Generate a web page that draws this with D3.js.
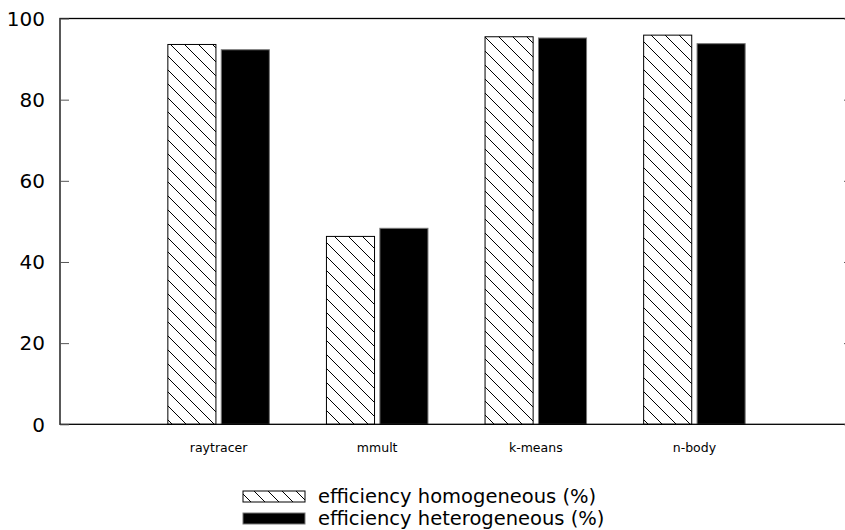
<!DOCTYPE html>
<html>
<head>
<meta charset="utf-8">
<script src="https://cdn.jsdelivr.net/npm/d3@7"></script>
<style>
  body { margin: 0; background: #fff; }
  svg { display: block; font-family: "DejaVu Sans", sans-serif; }
</style>
</head>
<body>
<script>
const width = 845;
const height = 530;
const margin = {top: 18.5, left: 60, bottom: 105.7, right: -8};

const categories = ['raytracer', 'mmult', 'k-means', 'n-body'];
const series = ['efficiency homogeneous (%)', 'efficiency heterogeneous (%)'];
const homogeneous = [93.6, 46.3, 95.5, 95.9];
const heterogeneous = [92.3, 48.3, 95.2, 93.8];
const yTicks = [0, 20, 40, 60, 80, 100];

const values = [homogeneous, heterogeneous];

const svg = d3.select('body').append('svg')
  .attr('width', width)
  .attr('height', height);

// hatch pattern
svg.append('defs').append('pattern')
  .attr('id', 'hatch')
  .attr('patternUnits', 'userSpaceOnUse')
  .attr('width', 14).attr('height', 14)
  .call(p => {
    p.append('rect').attr('width', 14).attr('height', 14).attr('fill', '#fff');
    p.append('path')
      .attr('d', 'M-2,-2L16,16M-2,12L2,16M12,-2L16,2')
      .attr('stroke', '#000').attr('stroke-width', 1);
  });

// x from -1 to 4 in category index units
const x = d3.scaleLinear()
  .domain([-1, categories.length])
  .range([margin.left, width - margin.right]);

const step = x(1) - x(0);
const x1 = d3.scaleBand()
  .domain(series)
  .range([-0.32 * step, 0.32 * step])
  .paddingInner(0.1);

const y = d3.scaleLinear()
  .domain([0, 100])
  .range([height - margin.bottom, margin.top]);

const fills = ['url(#hatch)', '#000'];
const strokes = ['#000', '#777'];

// bars
series.forEach((s, si) => {
  svg.append('g')
    .selectAll('rect').data(values[si]).enter().append('rect')
    .attr('x', (d, i) => x(i) + x1(s))
    .attr('y', d => y(d))
    .attr('width', x1.bandwidth())
    .attr('height', d => y(0) - y(d))
    .attr('fill', fills[si])
    .attr('stroke', strokes[si])
    .attr('stroke-width', 1);
});

// frame
const x0 = x.range()[0], xEnd = x.range()[1];
svg.append('rect')
  .attr('x', x0).attr('y', y(100))
  .attr('width', xEnd - x0).attr('height', y(0) - y(100))
  .attr('fill', 'none')
  .attr('stroke', '#000')
  .attr('stroke-width', 1.3);

// y axis ticks (left and mirrored right)
const yAxis = g => g
  .attr('transform', `translate(${x0}, 0)`)
  .call(d3.axisRight(y).tickValues(yTicks).tickSize(9).tickFormat(''))
  .call(g => g.select('.domain').remove())
  .call(g => g.selectAll('line').attr('stroke', '#555'));
svg.append('g').call(yAxis);

svg.append('g')
  .attr('transform', `translate(${xEnd}, 0)`)
  .call(d3.axisLeft(y).tickValues(yTicks).tickSize(9).tickFormat(''))
  .call(g => g.select('.domain').remove())
  .call(g => g.selectAll('line').attr('stroke', '#555'));

svg.append('g')
  .selectAll('text').data(yTicks).enter().append('text')
  .attr('x', 45)
  .attr('y', d => y(d))
  .attr('dy', '0.36em')
  .attr('text-anchor', 'end')
  .attr('font-size', 20)
  .text(d => d);

// category labels
svg.append('g')
  .selectAll('text').data(categories).enter().append('text')
  .attr('x', (d, i) => x(i))
  .attr('y', 452)
  .attr('text-anchor', 'middle')
  .attr('font-size', 12.5)
  .text(d => d);

// legend
const legend = svg.append('g')
  .selectAll('g').data(series).enter().append('g')
  .attr('transform', (d, i) => `translate(0, ${503 + i * 22})`);

legend.append('rect')
  .attr('x', 243).attr('y', -12)
  .attr('width', 62).attr('height', 11)
  .attr('fill', (d, i) => fills[i])
  .attr('stroke', (d, i) => strokes[i])
  .attr('stroke-width', 1);

legend.append('text')
  .attr('x', 318)
  .attr('font-size', 19.5)
  .text(d => d);
</script>
</body>
</html>
